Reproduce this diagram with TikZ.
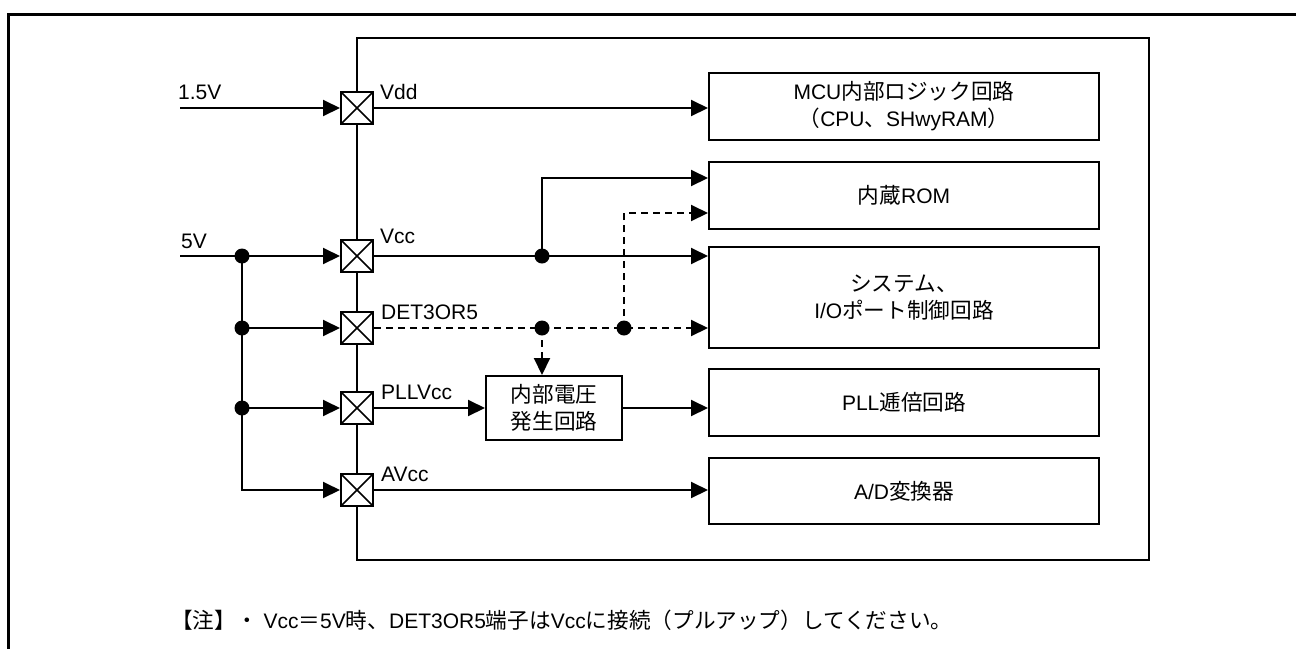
\documentclass[tikz,border=0pt]{standalone}
\usepackage{fontspec}
\setmainfont{Liberation Sans}
\newfontfamily\jp[Scale=1.03]{Noto Sans CJK JP}
\usetikzlibrary{arrows.meta}
\tikzset{
 ln/.style={line width=2pt},
 arr/.style={ln, -{Triangle[length=17pt,width=16pt]}},
 dsh/.style={dash pattern=on 7pt off 5pt},
 pin/.style={draw, line width=2pt, fill=white, minimum size=32pt, inner sep=0pt,
   path picture={\draw[line width=1.5pt] (path picture bounding box.north west) -- (path picture bounding box.south east)
     (path picture bounding box.north east) -- (path picture bounding box.south west);}},
 blk/.style={draw, line width=2pt, minimum width=390pt, inner sep=0pt, align=center},
 dot/.style={circle, fill, inner sep=0pt, minimum size=15pt},
 lbl/.style={anchor=base west, inner sep=0pt},
}
\begin{document}
\begin{tikzpicture}[x=1pt,y=-1pt,font=\fontsize{21}{27}\selectfont]
\useasboundingbox (0,0) rectangle (1296,649);
% outer frame
\draw[line width=3pt] (1296,14) -- (8,14) -- (8,649);
% chip
\node[draw, line width=2pt, minimum width=792pt, minimum height=522pt, inner sep=0pt] (chip) at (753,299) {};
% pins
\node[pin] (pVdd) at (357,108) {};
\node[pin] (pVcc) at (357,256) {};
\node[pin] (pDET) at (357,328) {};
\node[pin] (pPLL) at (357,408) {};
\node[pin] (pAV)  at (357,490) {};
% pin labels
\node[lbl] (lVdd) at (380,99) {Vdd};
\node[lbl] (lVcc) at (380,243) {Vcc};
\node[lbl] (lDET) at (381,319) {DET3OR5};
\node[lbl] (lPLL) at (381,399) {PLLVcc};
\node[lbl] (lAV)  at (381,481) {AVcc};
\node[lbl] (l15) at (178,99) {1.5V};
\node[lbl] (l5) at (181,248) {5V};
% blocks
\node[blk, minimum height=67pt] (mcu) at (904,106.5) {MCU{\jp 内部ロジック回路}\\{\jp （}CPU{\jp 、}SHwyRAM{\jp ）}};
\node[blk, minimum height=67pt] (rom) at (904,195.5) {{\jp 内蔵}ROM};
\node[blk, minimum height=101pt] (sys) at (904,297.5) {{\jp システム、}\\I/O{\jp ポート制御回路}};
\node[blk, minimum height=67pt] (pll) at (904,402.5) {PLL{\jp 逓倍回路}};
\node[blk, minimum height=66pt] (ad) at (904,491) {A/D{\jp 変換器}};
\node[draw, line width=2pt, minimum width=136pt, minimum height=64pt, inner sep=0pt, align=center] (vgen) at (554,408) {{\jp 内部電圧}\\{\jp 発生回路}};
% input coordinates and junctions
\coordinate (in15) at (180,108);
\coordinate (in5) at (180,256);
\node[dot] (jD) at (242,256) {};
\node[dot] (jE) at (242,328) {};
\node[dot] (jF) at (242,408) {};
\node[dot] (jA) at (542,256) {};
\node[dot] (jC) at (542,328) {};
\node[dot] (jB) at (624,328) {};
% connectors
\draw[arr] (in15) -- (pVdd);
\draw[arr] (in5) -- (pVcc);
\draw[arr] (jD.center) |- (pAV);
\draw[arr] (jE.center) -- (pDET);
\draw[arr] (jF.center) -- (pPLL);
\draw[arr] (pVdd) -- (pVdd -| mcu.west);
\draw[arr] (pVcc) -- (pVcc -| sys.west);
\draw[arr] (jA.center) |- ([yshift=17.5pt]rom.west);
\draw[arr,dsh] (pDET) -- (pDET -| sys.west);
\draw[arr,dsh] (jB.center) |- ([yshift=-17.5pt]rom.west);
\draw[arr,dsh] (jC.center) -- (jC |- vgen.north);
\draw[arr] (pPLL) -- (pPLL -| vgen.west);
\draw[arr] (vgen) -- (vgen -| pll.west);
\draw[arr] (pAV) -- (pAV -| ad.west);
% note
\node[anchor=west, inner sep=0pt] (note) at (171,620) {{\jp 【注】・} Vcc{\jp ＝}5V{\jp 時、}DET3OR5{\jp 端子は}Vcc{\jp に接続（プルアップ）してください。}};
\end{tikzpicture}
\end{document}
